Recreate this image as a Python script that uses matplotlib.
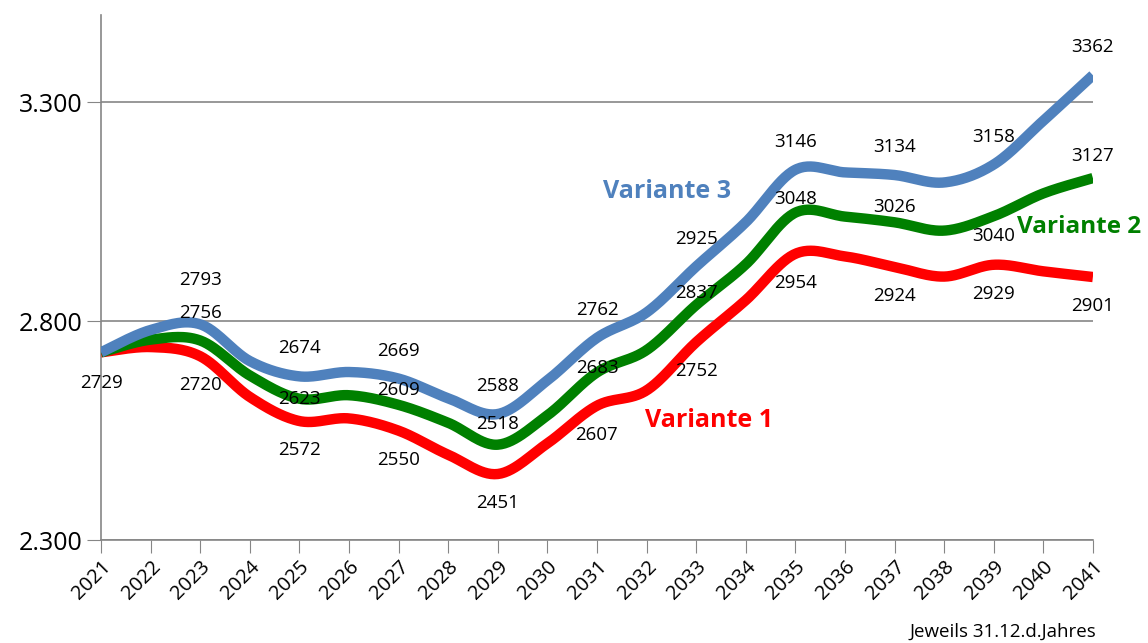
import numpy as np
import matplotlib
matplotlib.use("Agg")
import matplotlib.pyplot as plt

plt.rcParams['font.family'] = ['Open Sans', 'DejaVu Sans']

years = list(range(2021, 2042))
variante_1 = [2729, 2741, 2720, 2627, 2572, 2578, 2550, 2495, 2451, 2521, 2607,
              2642, 2752, 2848, 2954, 2948, 2924, 2902, 2929, 2914, 2901]
variante_2 = [2729, 2758, 2756, 2676, 2623, 2631, 2609, 2568, 2518, 2585, 2683,
              2734, 2837, 2930, 3048, 3039, 3026, 3007, 3040, 3092, 3127]
variante_3 = [2729, 2780, 2793, 2709, 2674, 2684, 2669, 2624, 2588, 2665, 2762,
              2820, 2925, 3026, 3146, 3140, 3134, 3117, 3158, 3258, 3362]

# labelled years (every second year)
label_years = [2023, 2025, 2027, 2029, 2031, 2033, 2035, 2037, 2039, 2041]
# vertical offsets of green labels in px (positive = up)
green_offsets = [27, 0, 15, 21, 4, 12, 14, 15, -20, 22]

c_red = '#FF0000'
c_green = '#008000'
c_blue = '#4F81BD'


def smooth(x, y, n=30):
    # Excel-like smoothed line: cubic bezier, control points from neighbours / 6
    x = np.asarray(x, float)
    y = np.asarray(y, float)
    px = np.concatenate([[x[0]], x, [x[-1]]])
    py = np.concatenate([[y[0]], y, [y[-1]]])
    xs, ys = [], []
    t = np.linspace(0, 1, n)
    for i in range(1, len(px) - 2):
        p0 = np.array([px[i], py[i]])
        p3 = np.array([px[i + 1], py[i + 1]])
        c1 = p0 + (np.array([px[i + 1], py[i + 1]]) - np.array([px[i - 1], py[i - 1]])) / 6
        c2 = p3 - (np.array([px[i + 2], py[i + 2]]) - np.array([px[i], py[i]])) / 6
        b = ((1 - t) ** 3)[:, None] * p0 + (3 * (1 - t) ** 2 * t)[:, None] * c1 \
            + (3 * (1 - t) * t ** 2)[:, None] * c2 + (t ** 3)[:, None] * p3
        xs.append(b[:, 0])
        ys.append(b[:, 1])
    return np.concatenate(xs), np.concatenate(ys)


fig = plt.figure(figsize=(11.48, 6.43), dpi=100)
ax = fig.add_axes([0.088, 0.160, 0.864, 0.817])

for vals, col in [(variante_1, c_red), (variante_2, c_green), (variante_3, c_blue)]:
    sx, sy = smooth(years, vals)
    ax.plot(sx, sy, color=col, lw=7.5, solid_capstyle='butt', zorder=3)

ax.set_xlim(2021, 2041)
ax.set_ylim(2300, 3500)
ax.set_yticks([2300, 2800, 3300])
ax.set_yticklabels(['2.300', '2.800', '3.300'], fontsize=18)
ax.set_xticks(years)
ax.set_xticklabels([str(y) for y in years], rotation=45, ha='right',
                   rotation_mode='anchor', fontsize=14.5)
ax.tick_params(axis='y', length=10, color='#868686', pad=3)
ax.tick_params(axis='x', length=9, color='#868686', pad=3)
for s in ['top', 'right']:
    ax.spines[s].set_visible(False)
for s in ['left', 'bottom']:
    ax.spines[s].set_color('#868686')
    ax.spines[s].set_linewidth(1.2)
ax.grid(axis='y', color='#868686', lw=1.2)
ax.set_axisbelow(True)

px2pt = 0.72
lab_kw = dict(textcoords='offset points', ha='center', va='center',
              fontsize=13.5, color='black', zorder=5)

ax.annotate('2729', (2021, variante_1[0]), xytext=(0, -31 * px2pt), **lab_kw)
for i, yr in enumerate(label_years):
    k = years.index(yr)
    up = 44 if yr == 2023 else 28
    ax.annotate(str(variante_3[k]), (yr, variante_3[k]), xytext=(0, up * px2pt), **lab_kw)
    ax.annotate(str(variante_1[k]), (yr, variante_1[k]), xytext=(0, -29 * px2pt), **lab_kw)
    ax.annotate(str(variante_2[k]), (yr, variante_2[k]), xytext=(0, green_offsets[i] * px2pt), **lab_kw)

ax.text(0.571, 0.663, 'Variante 3', transform=ax.transAxes, color=c_blue,
        fontsize=18, fontweight='bold', ha='center', va='center')
ax.text(1.049, 0.596, 'Variante 2', transform=ax.transAxes, color=c_green,
        fontsize=17.5, fontweight='bold', ha='right', va='center', clip_on=False)
ax.text(0.613, 0.227, 'Variante 1', transform=ax.transAxes, color=c_red,
        fontsize=18, fontweight='bold', ha='center', va='center')

fig.text(0.955, 0.017, 'Jeweils 31.12.d.Jahres', ha='right', va='center', fontsize=13.5)

fig.savefig('out.png', dpi=100)
